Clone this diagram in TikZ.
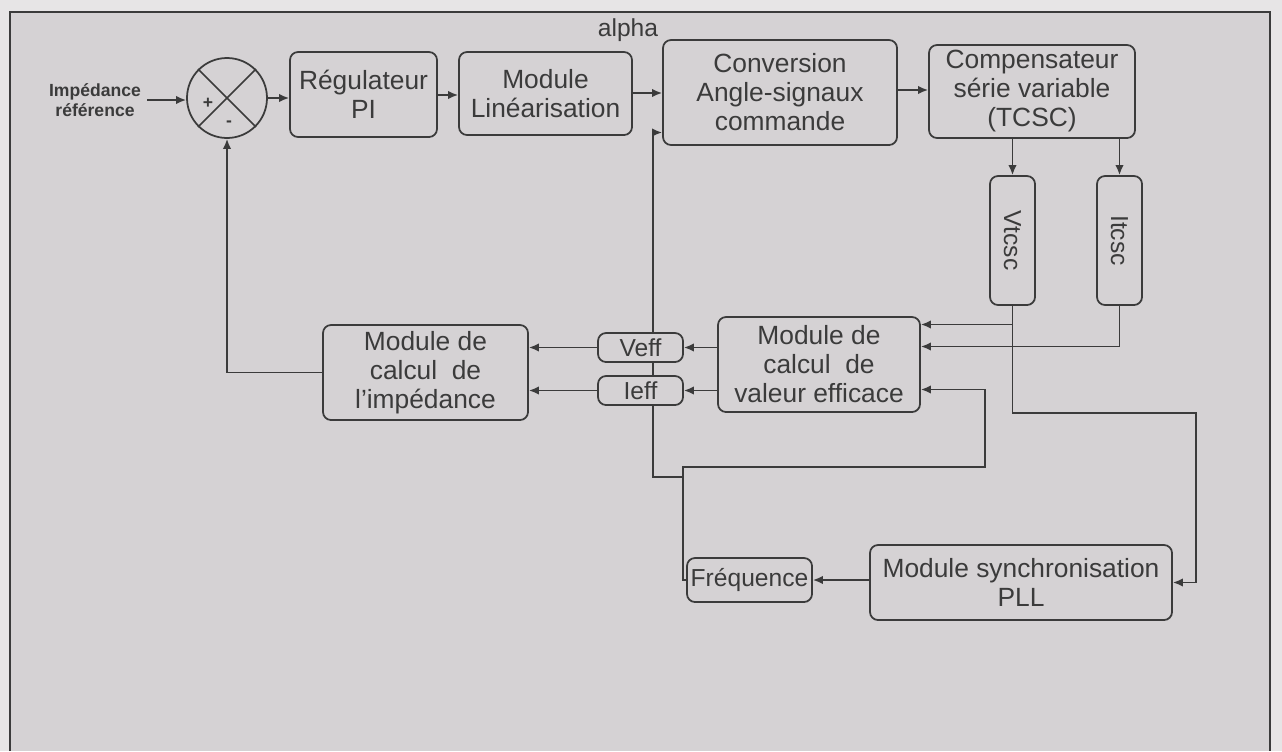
\documentclass[tikz,border=0pt]{standalone}
\usepackage{fontspec}
\setmainfont{Liberation Sans}
\usetikzlibrary{arrows.meta,backgrounds}

\newlength{\du}
\setlength{\du}{0.02cm}

\definecolor{fondcolor}{rgb}{0.835,0.824,0.831}
\definecolor{margecolor}{rgb}{0.905,0.898,0.902}
\definecolor{traitcolor}{rgb}{0.23,0.23,0.23}

\tikzset{
  blk/.style={draw=traitcolor, fill=fondcolor, rounded corners=8\du, line width=1pt,
    align=center, inner sep=0pt, text=traitcolor, font=\fontsize{15}{16.5}\selectfont},
  sig/.style={blk, font=\fontsize{14}{16}\selectfont},
  conn/.style={draw=traitcolor, line width=1pt, -{Latex[length=2mm,width=1.7mm]}},
  ligne/.style={draw=traitcolor, line width=1pt},
}

\begin{document}
\begin{tikzpicture}[x=1\du, y=-1\du]
\useasboundingbox (0,0) rectangle (1282,751);
\begin{pgfonlayer}{background}
\fill[margecolor] (0,0) rectangle (1282,751);
\fill[fondcolor] (10,12) rectangle (1270,751);
\draw[traitcolor, line width=1.2pt] (10,751) -- (10,12) -- (1270,12) -- (1270,751);
\end{pgfonlayer}

% chaine directe
\node[text=traitcolor, align=center, font=\fontsize{10}{11.5}\selectfont\bfseries] (zref) at (95,100) {Impédance\\référence};
\node[draw=traitcolor, fill=fondcolor, line width=1pt, circle, minimum size=80\du, inner sep=0pt] (sum) at (227,98) {};
\draw[ligne] (sum.north west) -- (sum.south east);
\draw[ligne] (sum.north east) -- (sum.south west);
\node[text=traitcolor, font=\fontsize{10}{12}\selectfont\bfseries] (plus) at (208,103) {+};
\node[text=traitcolor, font=\fontsize{10}{12}\selectfont\bfseries] (moins) at (229,124) {-};

\node[blk, minimum width=147\du, minimum height=85\du] (reg) at (363.5,94.5) {Régulateur\\PI};
\node[blk, minimum width=173\du, minimum height=83\du] (lin) at (545.5,93.5) {Module\\Linéarisation};
\node[blk, minimum width=234\du, minimum height=105\du] (conv) at (780,92.5) {Conversion\\Angle-signaux\\commande};
\node[blk, minimum width=206\du, minimum height=93\du] (comp) at (1032,91.5) {Compensateur\\série variable\\(TCSC)};
\node[text=traitcolor, font=\fontsize{14}{16}\selectfont] (alpha) at (628,30) {alpha};

% mesures (noeuds tournes : west = haut, east = bas)
\node[sig, rotate=-90, minimum width=129\du, minimum height=45\du] (vt) at (1012.5,240.5) {Vtcsc};
\node[sig, rotate=-90, minimum width=129\du, minimum height=45\du] (it) at (1119.5,240.5) {Itcsc};
\node[blk, minimum width=202\du, minimum height=95\du] (calc) at (819,364.5) {Module de\\calcul~~de\\valeur efficace};
\node[sig, minimum width=85\du, minimum height=29\du] (veff) at (640.5,347.5) {Veff};
\node[sig, minimum width=85\du, minimum height=29\du] (ieff) at (640.5,390.5) {Ieff};
\node[blk, minimum width=205\du, minimum height=95\du] (imp) at (425.5,372.5) {Module de\\calcul~~de\\l'impédance};
\node[sig, minimum width=125\du, minimum height=44\du] (freq) at (749.5,580) {Fréquence};
\node[blk, minimum width=302\du, minimum height=75\du] (pll) at (1021,582.5) {Module synchronisation\\PLL};
\coordinate (jf) at (683,477);

\draw[conn] (zref.east) -- (zref.east -| sum.west);
\draw[conn] (sum.east) -- (sum.east -| reg.west);
\draw[conn] (reg.east |- 0,95) -- (lin.west |- 0,95);
\draw[conn] (lin.east |- 0,93) -- (conv.west |- 0,93);
\draw[conn] (conv.east |- 0,90) -- (comp.west |- 0,90);
\draw[conn] (comp.south -| vt.west) -- (vt.west);
\draw[conn] (comp.south -| it.west) -- (it.west);

\draw[conn] (vt.east) |- ([yshift=40\du]calc.east);
\draw[conn] (it.east) |- ([yshift=18\du]calc.east);
\draw[conn] (vt.east) -- ++(0,107) -| ([xshift=23\du]pll.east) -- (pll.east);
\draw[conn] (calc.west |- veff.east) -- (veff.east);
\draw[conn] (calc.west |- ieff.east) -- (ieff.east);
\draw[conn] (veff.west) -- (imp.east |- veff.west);
\draw[conn] (ieff.west) -- (imp.east |- ieff.west);
\draw[conn] (imp.west) -| (sum.south);
\draw[conn] (pll.west |- freq.east) -- (freq.east);
\draw[conn] (freq.west) -| (jf) |- (985,467) |- ([yshift=-25\du]calc.east);
\begin{pgfonlayer}{background}
\draw[conn] (jf) -- ++(-30,0) |- ([yshift=-40\du]conv.west);
\end{pgfonlayer}
\end{tikzpicture}
\end{document}
